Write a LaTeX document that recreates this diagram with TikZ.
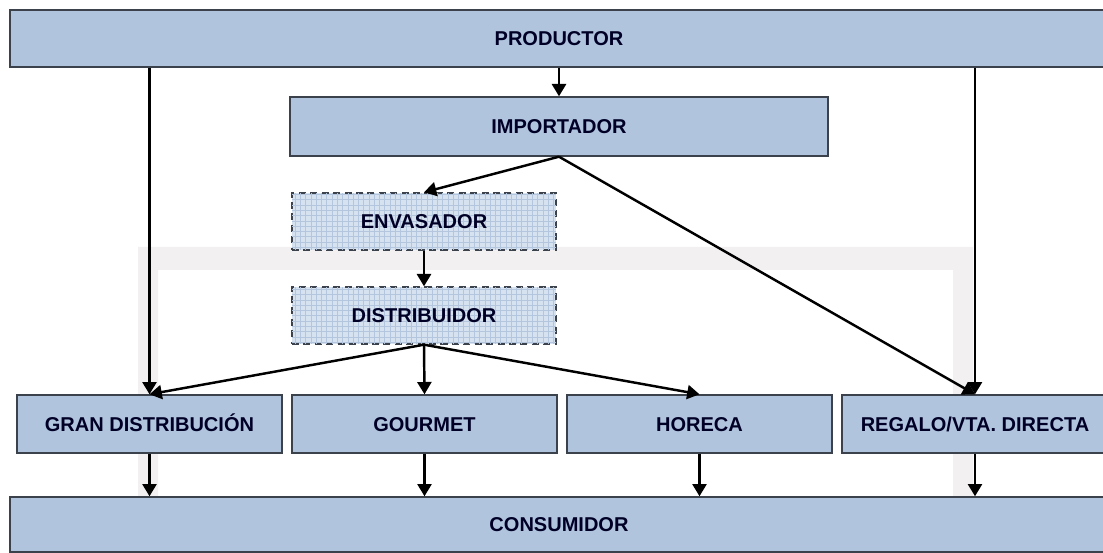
\documentclass[tikz,border=0pt]{standalone}
\usepackage{fontspec}
\setmainfont{Liberation Sans}
\usetikzlibrary{arrows.meta,patterns}
\definecolor{boxfill}{RGB}{176,196,222}
\definecolor{boxline}{RGB}{60,66,76}
\definecolor{dashfill}{RGB}{214,226,240}
\definecolor{gridcol}{RGB}{180,198,222}
\definecolor{wmark}{RGB}{242,240,240}
\tikzset{
  box/.style={draw=boxline, fill=boxfill, line width=0.8pt, inner sep=0pt,
    text height=8.2pt, text depth=0pt,
    font=\fontsize{11.4}{13}\selectfont\bfseries, text=black!85!blue},
  dbox/.style={box, fill=dashfill, dashed, dash pattern=on 4pt off 2.5pt,
    postaction={pattern=grid, pattern color=gridcol}},
  arr/.style={-{Triangle[length=7pt,width=8pt]}, line width=1.4pt, black},
}
\begin{document}
\begin{tikzpicture}[x=0.02cm,y=-0.02cm]
\useasboundingbox (0,0) rectangle (1103,553);
% faint background frame
\fill[wmark] (138,497) -- (138,247) -- (973,247) -- (973,497) -- (953,497) -- (953,270) -- (158,270) -- (158,497) -- cycle;
% nodes
\node[box, minimum width=21.96cm, minimum height=1.14cm] (prod) at (559,38.5) {PRODUCTOR};
\node[box, minimum width=10.76cm, minimum height=1.18cm] (imp) at (559,126.5) {IMPORTADOR};
\node[dbox, minimum width=5.28cm, minimum height=1.14cm] (env) at (424,221.5) {ENVASADOR};
\node[dbox, minimum width=5.28cm, minimum height=1.14cm] (dist) at (424,315.5) {DISTRIBUIDOR};
\node[box, minimum width=5.3cm, minimum height=1.16cm] (gran) at (149.5,424) {GRAN DISTRIBUCIÓN};
\node[box, minimum width=5.3cm, minimum height=1.16cm] (gour) at (424.5,424) {GOURMET};
\node[box, minimum width=5.3cm, minimum height=1.16cm] (hor) at (699.5,424) {HORECA};
\node[box, minimum width=5.32cm, minimum height=1.16cm] (reg) at (975,424) {REGALO/VTA. DIRECTA};
\node[box, minimum width=21.96cm, minimum height=1.1cm] (cons) at (559,524.5) {CONSUMIDOR};
% connectors
\draw[arr] (prod.south -| imp.north) -- (imp.north);
\draw[arr] (prod.south -| gran.north) -- (gran.north);
\draw[arr] (prod.south -| reg.north) -- (reg.north);
\draw[arr] (imp.south) -- (env.north);
\draw[arr] (imp.south) -- (reg.north);
\draw[arr] (env.south) -- (dist.north);
\draw[arr] (dist.south) -- (gran.north);
\draw[arr] (dist.south) -- (gour.north);
\draw[arr] (dist.south) -- (hor.north);
\draw[arr] (gran.south) -- (gran.south |- cons.north);
\draw[arr] (gour.south) -- (gour.south |- cons.north);
\draw[arr] (hor.south) -- (hor.south |- cons.north);
\draw[arr] (reg.south) -- (reg.south |- cons.north);
\end{tikzpicture}
\end{document}
